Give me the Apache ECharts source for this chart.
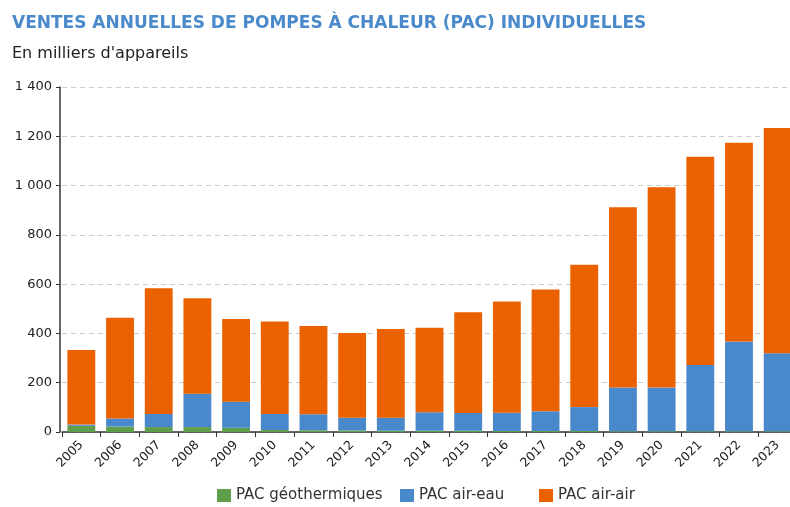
<!DOCTYPE html>
<html>
<head>
<meta charset="utf-8">
<script src="https://cdn.jsdelivr.net/npm/echarts@6/dist/echarts.min.js"></script>
<style>
  html, body { margin: 0; padding: 0; background: #fff; }
  #chart { width: 790px; height: 507px; }
</style>
</head>
<body>
<div id="chart"></div>
<script>
  // données (milliers d'appareils)
  var annees = ['2005','2006','2007','2008','2009','2010','2011','2012','2013','2014',
                '2015','2016','2017','2018','2019','2020','2021','2022','2023'];
  var geothermiques = [25, 22, 20, 20, 17, 8, 7, 6, 5, 5, 5, 4, 4, 4, 3, 3, 3, 3, 3];
  var airEau = [5, 33, 53, 135, 106, 65, 65, 52, 53, 75, 72, 74, 80, 97, 178, 178, 269, 364, 317];
  var airAir = [303, 409, 510, 388, 336, 375, 358, 344, 360, 343, 409, 452, 494, 578, 731, 812, 845, 807, 914];
  var ticksY = [0, 200, 400, 600, 800, 1000, 1200, 1400];

  var chart = echarts.init(document.getElementById('chart'));

  function fmt(v) {
    return String(v).replace(/\B(?=(\d{3})+(?!\d))/g, ' ');
  }

  // une légende par item pour reproduire les écarts irréguliers
  function legendItem(name, left) {
    return {
      data: [name], left: left, bottom: -1,
      itemWidth: 14, itemHeight: 13, icon: 'rect',
      textStyle: { color: '#333', fontSize: 15 }
    };
  }

  var option = {
    animation: false,
    textStyle: { fontFamily: 'DejaVu Sans, sans-serif' },
    title: [{
      text: 'VENTES ANNUELLES DE POMPES À CHALEUR (PAC) INDIVIDUELLES',
      left: 7, top: 10,
      textStyle: { color: '#4a8acb', fontSize: 17, fontWeight: 'bold', fontFamily: 'DejaVu Sans' }
    }, {
      text: "En milliers d'appareils",
      left: 7, top: 41,
      textStyle: { color: '#222', fontSize: 16, fontWeight: 'normal', fontFamily: 'DejaVu Sans' }
    }],
    legend: [
      legendItem('PAC géothermiques', 212),
      legendItem('PAC air-eau', 395),
      legendItem('PAC air-air', 534)
    ],
    grid: { left: 62, right: -7, top: 87, bottom: 75, outerBoundsMode: 'none' },
    xAxis: {
      type: 'category',
      data: annees,
      axisLine: { lineStyle: { color: '#333', width: 1.5 } },
      axisTick: { show: true, lineStyle: { color: '#333' }, length: 5 },
      axisLabel: { rotate: 45, color: '#222', fontSize: 12.5, margin: 11 }
    },
    yAxis: {
      type: 'value',
      min: 0, max: 1400, interval: 200,
      offset: 2,
      axisLine: { show: true, lineStyle: { color: '#333', width: 1.5 } },
      axisTick: { show: true, length: 4, lineStyle: { color: '#333' } },
      axisLabel: {
        color: '#222', fontSize: 13, margin: 8,
        formatter: function (v) { return ticksY.indexOf(v) >= 0 ? fmt(v) : ''; }
      },
      splitLine: { lineStyle: { color: '#cccccc', type: [5, 4] } }
    },
    series: [{
      name: 'PAC géothermiques', type: 'bar', stack: 'pac', barWidth: '72%',
      itemStyle: { color: '#5f9e4a' }, data: geothermiques
    }, {
      name: 'PAC air-eau', type: 'bar', stack: 'pac', barWidth: '72%',
      itemStyle: { color: '#4a88cc' }, data: airEau
    }, {
      name: 'PAC air-air', type: 'bar', stack: 'pac', barWidth: '72%',
      itemStyle: { color: '#eb6100' }, data: airAir
    }]
  };

  chart.setOption(option);
  window.addEventListener('resize', function () { chart.resize(); });
</script>
</body>
</html>
